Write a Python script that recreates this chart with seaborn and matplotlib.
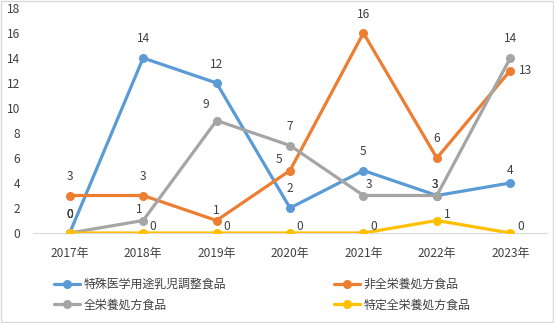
import matplotlib
matplotlib.use("Agg")
import matplotlib.pyplot as plt
import seaborn as sns
import pandas as pd
from matplotlib.patches import Rectangle

years = ["2017年", "2018年", "2019年", "2020年", "2021年", "2022年", "2023年"]
s_names = ["特殊医学用途乳児調整食品", "非全栄養処方食品", "全栄養処方食品", "特定全栄養処方食品"]
blue_vals = [0, 14, 12, 2, 5, 3, 4]
orange_vals = [3, 3, 1, 5, 16, 6, 13]
gray_vals = [0, 1, 9, 7, 3, 3, 14]
yellow_vals = [0, 0, 0, 0, 0, 1, 0]
colors = ["#5B9BD5", "#ED7D31", "#A5A5A5", "#FFC000"]

# label offsets in pixels (style only)
A = (0, 19)
offsets = [
    [A, A, A, A, A, (-2, 11), (0, 12)],
    [A, A, (0, 10), (-11, 11), A, A, (15, 0)],
    [A, (-4, 11), (-11, 16), A, (6, 11), (-2, 11), A],
    [A] + [(10, 6)] * 6,
]
FS = 8.6

sns.set_theme(style="white")
plt.rcParams["font.family"] = ["Noto Sans CJK JP", "DejaVu Sans"]

fig = plt.figure(figsize=(5.54, 3.23), dpi=100)
ax = fig.add_axes([33 / 554, 1 - 233 / 323, 514 / 554, 225 / 323])

x = list(range(len(years)))
series = [blue_vals, orange_vals, gray_vals, yellow_vals]
for name, vals, c, offs in zip(s_names, series, colors, offsets):
    df = pd.DataFrame({"x": x, "y": vals})
    sns.lineplot(data=df, x="x", y="y", ax=ax, color=c, lw=2.3, marker="o",
                 markersize=6.5, markeredgewidth=0, label=name, zorder=3)
    for xi, v, o in zip(x, vals, offs):
        ax.annotate(str(v), (xi, v), xytext=(o[0] * 0.72, o[1] * 0.72),
                    textcoords="offset points", ha="center", va="center",
                    fontsize=FS, color="#404040", zorder=5)

ax.set_xlim(-0.5, len(years) - 0.5)
ax.set_ylim(0, 18)
ax.set_yticks(range(0, 19, 2))
ax.set_xticks(x)
ax.set_xticklabels(years)
ax.set_xlabel("")
ax.set_ylabel("")
ax.tick_params(axis="both", labelsize=FS, colors="#404040", length=0)
ax.tick_params(axis="x", pad=10)
ax.tick_params(axis="y", pad=9)
for s in ["top", "right", "left"]:
    ax.spines[s].set_visible(False)
ax.spines["bottom"].set_color("#D9D9D9")
ax.spines["bottom"].set_linewidth(0.8)
ax.spines["bottom"].set_zorder(1)

handles, labels = ax.get_legend_handles_labels()
order = [0, 2, 1, 3]
leg = ax.legend([handles[i] for i in order], [labels[i] for i in order], ncol=2,
                loc="upper left", bbox_to_anchor=(43 / 554, 1 - 267 / 323),
                bbox_transform=fig.transFigure, frameon=False, fontsize=FS,
                labelcolor="#404040", columnspacing=9.0, handlelength=2.2,
                handletextpad=0.3, labelspacing=0.65)

fig.patches.append(Rectangle((0.001, 0.002), 0.997, 0.995, transform=fig.transFigure,
                             fill=False, edgecolor="#D9D9D9", lw=1))
fig.savefig("out.png", dpi=100)
